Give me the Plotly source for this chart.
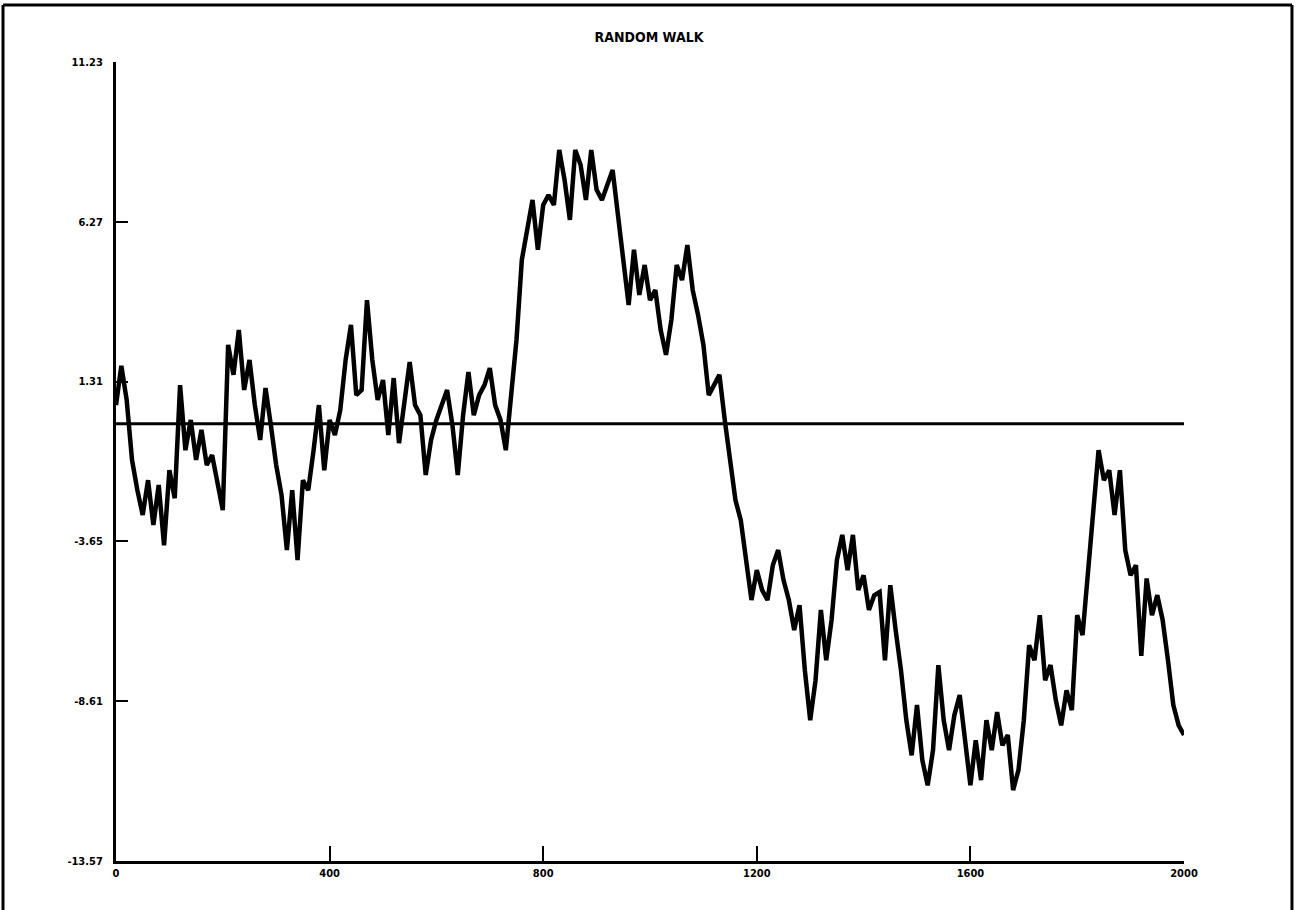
import plotly.graph_objects as go

# Step index of the walk (every 10 steps) and the walk's position
steps = list(range(0, 2001, 10))
walk = [
    0.58, 1.80, 0.74, -1.12, -2.06, -2.83, -1.75, -3.14, -1.90, -3.77,
    -1.44, -2.31, 1.20, -0.82, 0.12, -1.12, -0.19, -1.28, -0.97, -1.90,
    -2.68, 2.45, 1.52, 2.91, 1.05, 1.98, 0.58, -0.50, 1.11, -0.04,
    -1.28, -2.21, -3.92, -2.06, -4.23, -1.75, -2.06, -0.82, 0.58, -1.44,
    0.12, -0.35, 0.43, 1.98, 3.07, 0.89, 1.05, 3.84, 1.98, 0.74,
    1.36, -0.35, 1.42, -0.60, 0.74, 1.92, 0.58, 0.27, -1.59, -0.50,
    0.12, 0.58, 1.05, -0.04, -1.59, 0.27, 1.61, 0.27, 0.89, 1.20,
    1.73, 0.58, 0.12, -0.82, 0.89, 2.61, 5.09, 6.02, 6.95, 5.40,
    6.79, 7.10, 6.79, 8.50, 7.57, 6.33, 8.50, 8.04, 6.95, 8.50,
    7.26, 6.95, 7.42, 7.88, 6.48, 4.93, 3.69, 5.40, 4.00, 4.93,
    3.84, 4.15, 2.91, 2.14, 3.22, 4.93, 4.46, 5.55, 4.15, 3.38,
    2.45, 0.89, 1.20, 1.52, 0.12, -1.12, -2.37, -2.99, -4.23, -5.47,
    -4.54, -5.16, -5.47, -4.39, -3.92, -4.85, -5.47, -6.40, -5.63, -7.65,
    -9.20, -7.96, -5.78, -7.34, -6.09, -4.23, -3.45, -4.54, -3.45, -5.16,
    -4.70, -5.78, -5.32, -5.22, -7.34, -5.01, -6.40, -7.65, -9.20, -10.29,
    -8.73, -10.44, -11.22, -10.13, -7.49, -9.20, -10.13, -9.04, -8.42, -9.82,
    -11.22, -9.82, -11.06, -9.20, -10.13, -8.95, -9.98, -9.66, -11.37, -10.75,
    -9.20, -6.87, -7.34, -5.94, -7.96, -7.49, -8.58, -9.36, -8.27, -8.89,
    -5.94, -6.56, -4.70, -2.68, -0.82, -1.75, -1.44, -2.83, -1.44, -3.92,
    -4.70, -4.39, -7.20, -4.80, -5.94, -5.32, -6.09, -7.34, -8.73, -9.36,
    -9.66,
]

# Reference level drawn across the whole run
baseline_x = [0, 2000]
baseline_y = [0, 0]

x_tickvals = [0, 400, 800, 1200, 1600, 2000]
x_ticktext = ["0", "400", "800", "1200", "1600", "2000"]
y_tickvals = [11.23, 6.27, 1.31, -3.65, -8.61, -13.57]
y_ticktext = ["11.23", "6.27", "1.31", "-3.65", "-8.61", "-13.57"]

INK = "#000000"
FONT = "DejaVu Sans Condensed, DejaVu Sans, sans-serif"

fig = go.Figure()
fig.add_trace(go.Scatter(
    x=baseline_x, y=baseline_y, mode="lines",
    line=dict(color=INK, width=3), hoverinfo="skip", showlegend=False,
))
fig.add_trace(go.Scatter(
    x=steps, y=walk, mode="lines",
    line=dict(color=INK, width=4.5), showlegend=False,
))

axis_common = dict(
    showline=True, linecolor=INK, linewidth=3,
    ticks="inside", tickcolor=INK, tickwidth=2,
    showgrid=False, zeroline=False, mirror=False,
    tickfont=dict(family=FONT, size=11, color=INK, weight="bold"),
)

fig.update_xaxes(
    range=[0, 2000], tickmode="array", tickvals=x_tickvals, ticktext=x_ticktext,
    ticklen=15, **axis_common,
)
fig.update_yaxes(
    range=[-13.57, 11.23], tickmode="array", tickvals=y_tickvals, ticktext=y_ticktext,
    ticklen=12, ticklabelstandoff=8, **axis_common,
)

# Page frame: top, left and right edges
frame = dict(type="line", xref="paper", yref="paper", line=dict(color=INK, width=3))
shapes = [
    dict(frame, x0=-0.1058, x1=1.1011, y0=1.0713, y1=1.0713),
    dict(frame, x0=-0.1058, x1=-0.1058, y0=-0.07, y1=1.0713),
    dict(frame, x0=1.1011, x1=1.1011, y0=-0.07, y1=1.0713),
]

fig.update_layout(
    width=1298, height=910,
    margin=dict(l=116, r=114, t=62, b=49),
    paper_bgcolor="white", plot_bgcolor="white",
    title=dict(
        text="RANDOM WALK", x=0.5, xanchor="center", y=0.959, yanchor="middle",
        font=dict(family=FONT, size=14, color=INK, weight="bold"),
    ),
    shapes=shapes,
)

fig.write_html("out.html")
